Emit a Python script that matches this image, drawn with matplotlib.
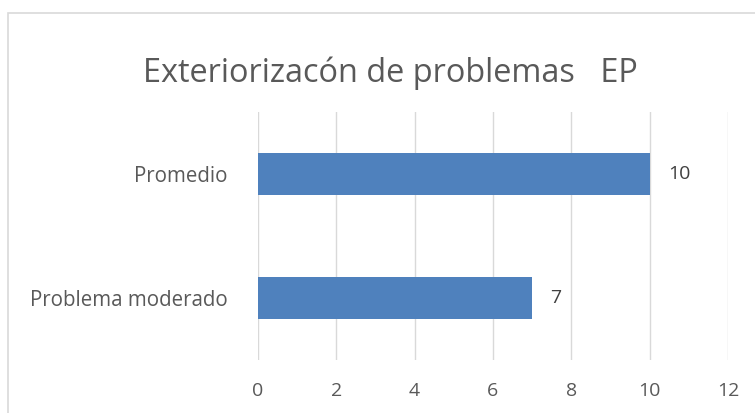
import matplotlib
matplotlib.use("Agg")
import matplotlib.pyplot as plt
from matplotlib.patches import Rectangle

categories = ["Problema moderado", "Promedio"]
values = [7, 10]
xticks = [0, 2, 4, 6, 8, 10, 12]
title = "Exteriorizacón de problemas   EP"

plt.rcParams['font.family'] = ['Open Sans', 'DejaVu Sans']
txt = "#595959"
grid = "#D9D9D9"

fig = plt.figure(figsize=(7.55, 4.13), dpi=100)
fig.patches.append(Rectangle((8/755, -0.1), 1.2, 1 - 13/413 + 0.1, transform=fig.transFigure,
                             fill=False, edgecolor=grid, linewidth=1.2))
ax = fig.add_axes([258/755, 1 - 360/413, 470/755, 248/413])
ax.barh(range(len(categories)), values, height=0.34, color="#4F81BD", zorder=3)
ax.set_xlim(0, 12)
ax.set_ylim(-0.5, 1.5)
ax.set_xticks(xticks)
ax.set_xticklabels([str(t) for t in xticks])
ax.set_yticks(range(len(categories)))
ax.set_yticklabels(categories)
ax.grid(axis="x", color=grid, linewidth=1, zorder=0)
for s in ax.spines.values():
    s.set_visible(False)
ax.tick_params(axis="both", length=0, colors=txt, labelsize=14)
ax.tick_params(axis="y", labelsize=14.8)
ax.tick_params(axis="x", pad=16)
ax.tick_params(axis="y", pad=22)
for i, v in enumerate(values):
    ax.annotate(str(v), (v, i), xytext=(13, 0), textcoords="offset points",
                va="center", ha="left", color="#404040", fontsize=14)
fig.text(390/755, 1 - 73/413, title, ha="center", va="center", fontsize=23.4, color=txt)
fig.savefig("out.png", dpi=100)
